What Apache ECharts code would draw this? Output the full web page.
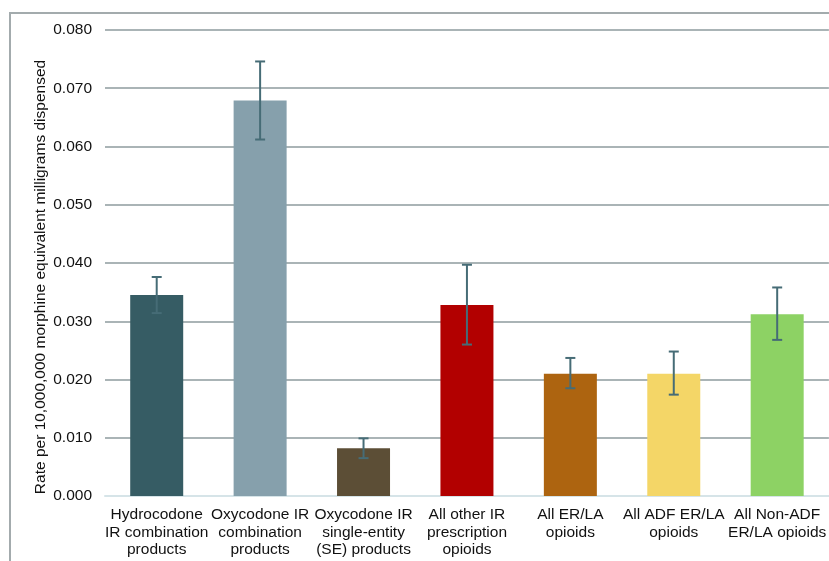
<!DOCTYPE html>
<html>
<head>
<meta charset="utf-8">
<script src="https://cdn.jsdelivr.net/npm/echarts@6/dist/echarts.min.js"></script>
<style>
  html, body { margin: 0; padding: 0; background: #fff; }
  #chart { width: 829px; height: 561px; }
</style>
</head>
<body>
<div id="chart"></div>
<script>
const categories = [
  'Hydrocodone\nIR combination\nproducts',
  'Oxycodone IR\ncombination\nproducts',
  'Oxycodone IR\nsingle-entity\n(SE) products',
  'All other IR\nprescription\nopioids',
  'All ER/LA\nopioids',
  'All ADF ER/LA\nopioids',
  'All Non-ADF\nER/LA opioids'
]
const rates = [0.0345, 0.0679, 0.0082, 0.0328, 0.0210, 0.0210, 0.0312]
const lowerCI = [0.0314, 0.0612, 0.0065, 0.0260, 0.0185, 0.0174, 0.0268]
const upperCI = [0.0376, 0.0746, 0.0099, 0.0397, 0.0237, 0.0248, 0.0358]
const barColors = ['#365c64', '#86a0ac', '#5c4e36', '#b20000', '#ad6410', '#f4d667', '#8dd264']

const chart = echarts.init(document.getElementById('chart'))

chart.setOption({
  animation: false,
  backgroundColor: '#fff',
  textStyle: { fontFamily: 'Liberation Sans, Arial, sans-serif' },
  graphic: [
    {
      type: 'polyline',
      shape: { points: [[10, 600], [10, 13], [840, 13]] },
      style: { stroke: '#a3abad', lineWidth: 2, fill: null },
      z: 0
    }
  ],
  grid: { left: 105, top: 30, width: 728, height: 466, containLabel: false },
  xAxis: {
    type: 'category',
    data: categories,
    axisTick: { show: false },
    axisLine: { lineStyle: { color: '#d6e4e8', width: 2 } },
    axisLabel: {
      color: '#111',
      fontSize: 15.5,
      lineHeight: 17.5,
      margin: 10,
      interval: 0
    }
  },
  yAxis: {
    type: 'value',
    min: 0,
    max: 0.08,
    interval: 0.01,
    name: 'Rate per 10,000,000 morphine equivalent milligrams dispensed',
    nameLocation: 'middle',
    nameRotate: 90,
    nameGap: 56,
    nameMoveOverlap: false,
    nameTextStyle: { color: '#111', fontSize: 15.5, padding: [0, 28, 0, 0] },
    axisLine: { show: false },
    axisTick: { show: false },
    axisLabel: {
      color: '#111',
      fontSize: 15.5,
      margin: 13,
      formatter: v => v.toFixed(3)
    },
    splitLine: { lineStyle: { color: '#aab4b6', width: 2 } }
  },
  series: [
    {
      type: 'bar',
      barWidth: 53,
      data: rates.map((v, i) => ({ value: v, itemStyle: { color: barColors[i] } })),
      z: 2
    },
    {
      type: 'custom',
      z: 3,
      data: lowerCI.map((lo, i) => [i, lo, upperCI[i]]),
      renderItem(params, api) {
        const lo = api.coord([api.value(0), api.value(1)])
        const hi = api.coord([api.value(0), api.value(2)])
        const hw = 5
        const style = { stroke: '#466c76', lineWidth: 2 }
        return {
          type: 'group',
          children: [
            { type: 'line', shape: { x1: hi[0], y1: hi[1], x2: lo[0], y2: lo[1] }, style },
            { type: 'line', shape: { x1: hi[0] - hw, y1: hi[1], x2: hi[0] + hw, y2: hi[1] }, style },
            { type: 'line', shape: { x1: lo[0] - hw, y1: lo[1], x2: lo[0] + hw, y2: lo[1] }, style }
          ]
        }
      }
    }
  ]
})
</script>
</body>
</html>
